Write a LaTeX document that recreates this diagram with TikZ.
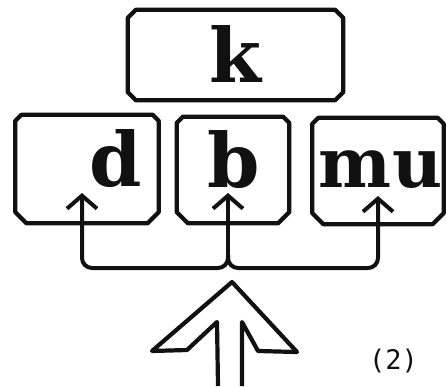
\documentclass[tikz,border=0pt]{standalone}
\usepackage{fontspec}
\usepackage{xcolor}
\usetikzlibrary{arrows.meta,calc,positioning}
\newfontfamily\letterfont{DejaVu Serif}
\newfontfamily\tagfont{DejaVu Sans Mono}
\definecolor{inkblack}{HTML}{111111}
\tikzset{
  unitbox/.style={rectangle, inner sep=0pt},
  boxline/.style={inkblack, line width=4.2pt, line join=round},
  letter/.style={anchor=base, inner sep=0pt, font=\letterfont\bfseries\fontsize{75}{75}\selectfont, text=inkblack},
  link/.style={inkblack, line width=4pt, -{Straight Barb[length=13pt, width=30pt]}},
  outline/.style={inkblack, line width=4.2pt, line join=round},
  tag/.style={anchor=base west, inner sep=0pt, font=\tagfont\fontsize{27}{27}\selectfont, text=inkblack}
}
% outline of a box node: #1 name, #2 top cut, #3 bottom cut
\newcommand\unitoutline[3]{%
  \draw[boxline] ($(#1.north west)+(0,#2)$) -- ($(#1.north west)+(#2,0)$)
    -- ($(#1.north east)+(-#2,0)$) -- ($(#1.north east)+(0,#2)$)
    -- ($(#1.south east)+(0,-#3)$) -- ($(#1.south east)+(-#3,0)$)
    -- ($(#1.south west)+(#3,0)$) -- ($(#1.south west)+(0,-#3)$) -- cycle;}
\begin{document}
\begin{tikzpicture}[x=1pt, y=-1pt]
  \useasboundingbox (0,0) rectangle (447,386);
  % boxes
  \node[unitbox, minimum width=215pt, minimum height=90pt] (kbox) at (235.5,55) {};
  \node[unitbox, minimum width=143pt, minimum height=108pt] (dbox) at (87,169) {};
  \node[unitbox, minimum width=112pt, minimum height=106pt] (bbox) at (233,170) {};
  \node[unitbox, minimum width=131pt, minimum height=106pt] (mbox) at (378,171) {};
  \unitoutline{kbox}{8}{8}
  \unitoutline{dbox}{6}{11}
  \unitoutline{bbox}{6}{11}
  \unitoutline{mbox}{6}{11}
  % letters
  \node[letter] (k) at (235,82) {k};
  \node[letter] (d) at (116,186) {d};
  \node[letter] (b) at (234,187) {b};
  \node[letter, anchor=base west, font=\letterfont\bfseries\fontsize{69}{69}\selectfont] (mu) at (318,187) {m\kern1pt u};
  % connectors
  \coordinate (dtip) at (82,193);
  \coordinate (btip) at (228,193);
  \coordinate (mtip) at (378,196);
  \coordinate (fork) at (228,255);
  \draw[link] (fork) -- (btip);
  \draw[link, rounded corners=10pt] (fork) -- ++(0,13) -| (dtip);
  \draw[link, rounded corners=10pt] (fork) -- ++(0,13) -| (mtip);
  % hollow arrow
  \draw[outline] (218,386) -- (217,322) -- (187,350) -- (152,351) -- (232,282)
    -- (297,352) -- (258,351) -- (242,322) -- (242,386);
  \node[tag] (num) at (369,369) {(2)};
\end{tikzpicture}
\end{document}
